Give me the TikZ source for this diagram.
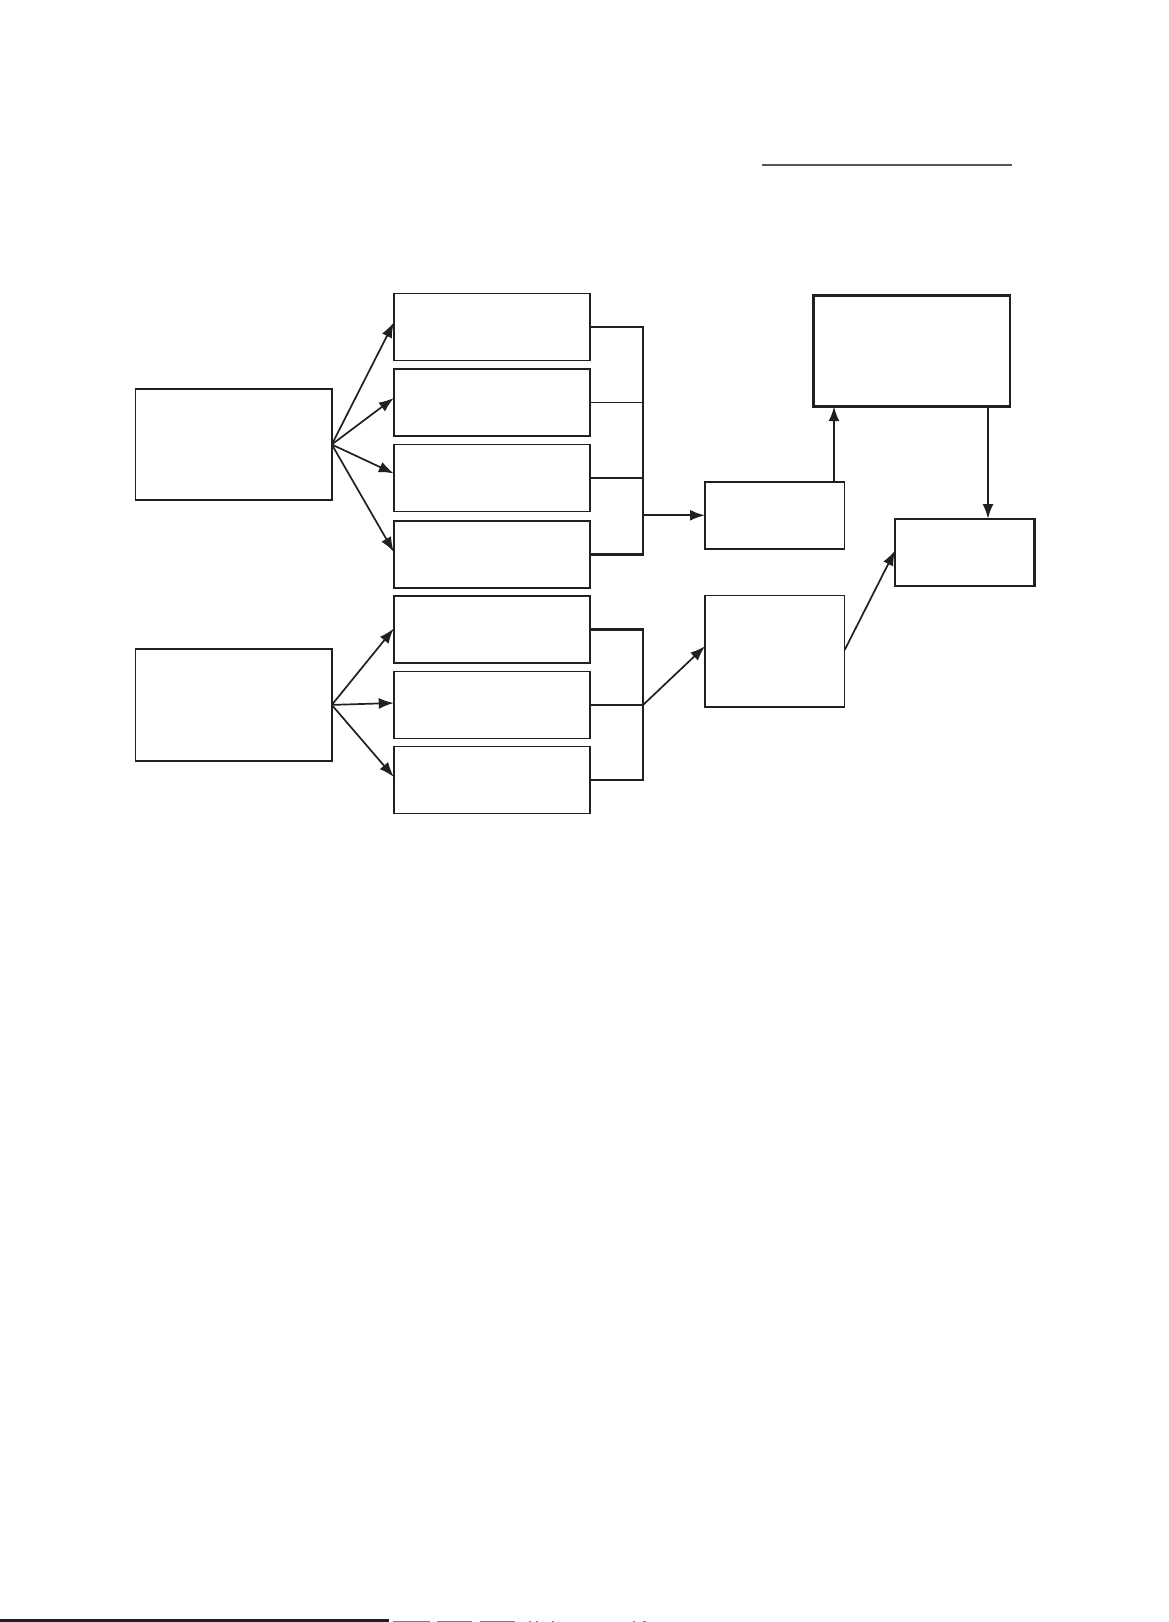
\documentclass[tikz,border=0pt]{standalone}
\usetikzlibrary{arrows.meta}
\definecolor{ink}{HTML}{231F20}
\definecolor{rule}{HTML}{555555}
\definecolor{speck}{HTML}{7A7A9A}
\begin{document}
\begin{tikzpicture}[x=1pt,y=-1pt,
  box/.style={draw=ink,line width=1.8pt,inner sep=0pt,outer sep=0pt,fill=none},
  wide/.style={box,minimum width=196.4pt},
  narrow/.style={box,minimum width=139.5pt},
  short/.style={minimum height=67pt},
  tall/.style={minimum height=111.6pt},
  arr/.style={draw=ink,line width=1.7pt,-{Latex[length=15pt,width=11pt]}},
  heavy/.style={draw=ink,line width=2.3pt},
  light/.style={draw=ink,line width=1.3pt}]
\useasboundingbox (0,0) rectangle (1169,1622);
\fill[white] (0,0) rectangle (1169,1622);
% top rule
\draw[rule,line width=2.6pt] (762,165) coordinate (r1) -- (1012,165) coordinate (r2);
% left boxes
\node[wide,tall] (A) at (233.6,444.5) {};
\node[wide,tall] (B) at (233.6,704.9) {};
% middle column
\node[wide,short] (b1) at (492,327) {};
\node[wide,short] (b2) at (492,402.5) {};
\node[wide,short] (b3) at (492,478) {};
\node[wide,short] (b4) at (492,554.5) {};
\node[wide,short] (b5) at (492,629.5) {};
\node[wide,short] (b6) at (492,705) {};
\node[wide,short] (b7) at (492,780) {};
% right boxes
\node[narrow,short] (M) at (774.8,515.3) {};
\node[narrow,tall] (N) at (774.8,651.2) {};
\node[wide,minimum height=110.6pt,line width=2.6pt] (T) at (911.6,350.9) {};
\node[narrow,short,line width=2.2pt] (R) at (964.8,552.5) {};
% fan-out arrows
\draw[arr] (A.east) -- ([yshift=4.5pt]b1.west);
\draw[arr] (A.east) -- ([yshift=4.5pt]b2.west);
\draw[arr] (A.east) -- ([yshift=4.5pt]b3.west);
\draw[arr] (A.east) -- ([yshift=2.5pt]b4.west);
\draw[arr] (B.east) -- ([yshift=1pt]b5.west);
\draw[arr] (B.east) -- ([yshift=2pt]b6.west);
\draw[arr] (B.east) -- ([yshift=3pt]b7.west);
% brackets
\coordinate (ux) at (643,0);
\draw[heavy] (b1.east) -- (b1.east -| ux) -- (b4.east -| ux) -- (b4.east);
\draw[light] (b2.east) -- (b2.east -| ux);
\draw[heavy] (b3.east) -- (b3.east -| ux);
\draw[arr,line width=2.2pt] (ux |- M.west) -- (M.west);
\draw[heavy] (b5.east) -- (b5.east -| ux) -- (b7.east -| ux) -- (b7.east);
\draw[heavy] (b6.east) -- (b6.east -| ux);
\draw[arr] (ux |- b6.east) -- ([yshift=5pt]N.west);
% right side
\coordinate (tx) at (834,0);
\coordinate (rx) at (988,0);
\draw[arr,line width=2.3pt] (M.north -| tx) -- (T.south -| tx);
\draw[arr,line width=2.3pt] (T.south -| rx) -- (R.north -| rx);
\draw[arr] ([yshift=1pt]N.east) -- ([yshift=2pt]R.west);
% bottom edge rule and specks
\draw[ink,line width=2.6pt] (0,1620.5) coordinate (s0) -- (389,1620.5) coordinate (s1);
\foreach \a/\b in {393/430,437/472,480/515,529/531,536/538,552/554,633/635,643/646}
  \draw[speck,line width=0.8pt] (\a,1621.5) -- (\b,1621.5);
\end{tikzpicture}
\end{document}
